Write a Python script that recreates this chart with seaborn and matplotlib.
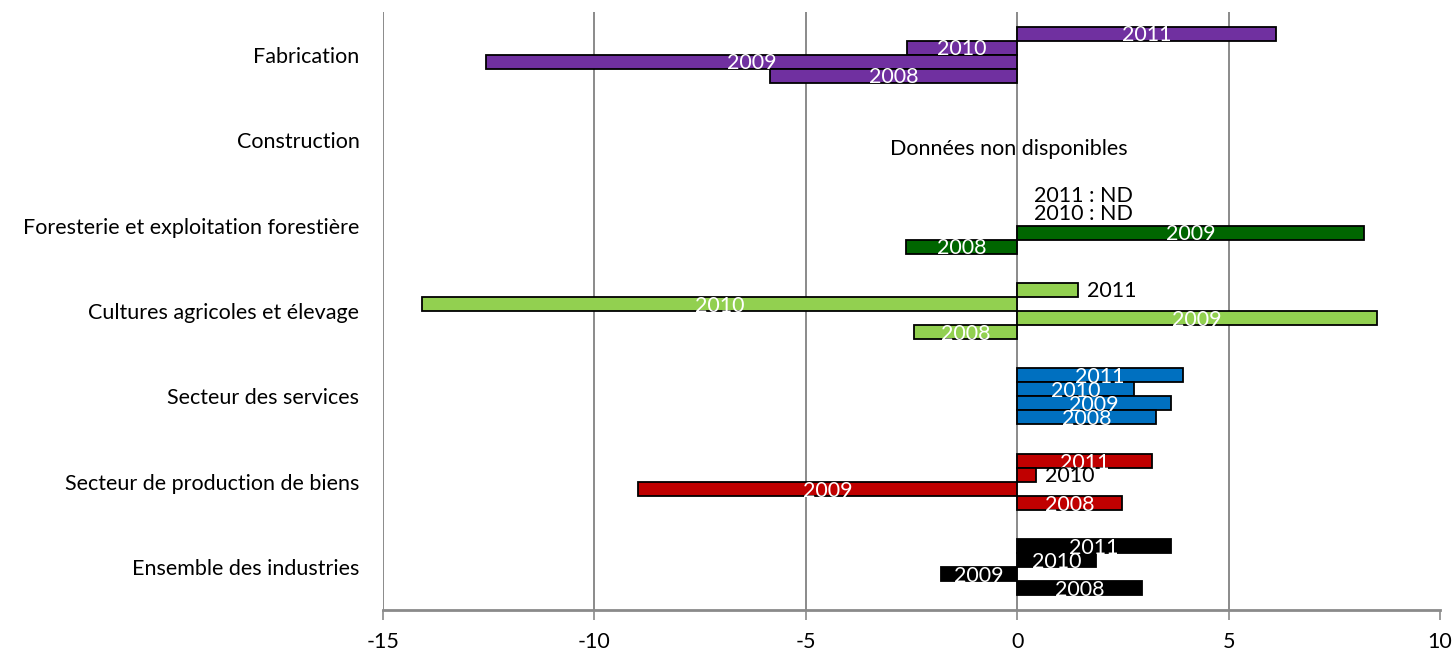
import matplotlib
matplotlib.use("Agg")
import matplotlib.pyplot as plt
import seaborn as sns
import pandas as pd
import numpy as np

# Donnees (variation en %)
secteurs = ["Fabrication", "Construction", "Foresterie et exploitation forestière",
            "Cultures agricoles et élevage", "Secteur des services",
            "Secteur de production de biens", "Ensemble des industries"]
annees = ["2011", "2010", "2009", "2008"]
v2011 = [6.13, None, None, 1.44, 3.92, 3.18, 3.63]
v2010 = [-2.60, None, None, -14.08, 2.77, 0.45, 1.87]
v2009 = [-12.57, None, 8.21, 8.51, 3.64, -8.98, -1.81]
v2008 = [-5.84, None, -2.63, -2.44, 3.28, 2.49, 2.95]
couleurs = ["#7030A0", "#7030A0", "#006600", "#92D050", "#0070C0", "#C00000", "#000000"]
etiquettes_noires = [("Cultures agricoles et élevage", "2011"),
                     ("Secteur de production de biens", "2010")]

rows = []
for annee, vals in zip(annees, [v2011, v2010, v2009, v2008]):
    for s, v in zip(secteurs, vals):
        rows.append({"secteur": s, "annee": annee, "valeur": v})
df = pd.DataFrame(rows).dropna()

sns.set_theme(style="white")
plt.rcParams["font.family"] = ["Lato", "DejaVu Sans"]
plt.rcParams["axes.unicode_minus"] = False
grey = "#8a8a8a"
fs = 15.5

fig = plt.figure(figsize=(14.54, 6.53), dpi=100)
ax = fig.add_axes([383 / 1454, 1 - 610 / 653, (1440 - 383) / 1454, (610 - 12) / 653])

sns.barplot(data=df, x="valeur", y="secteur", hue="annee", order=secteurs,
            hue_order=annees, orient="h", width=0.656, dodge=True, errorbar=None,
            edgecolor="black", linewidth=1.3, legend=False, ax=ax)

for annee, cont in zip(annees, ax.containers):
    for bar in cont:
        w = bar.get_width()
        if w is None or np.isnan(w):
            continue
        yc = bar.get_y() + bar.get_height() / 2
        idx = int(round(yc))
        bar.set_facecolor(couleurs[idx])
        if (secteurs[idx], annee) in etiquettes_noires:
            ax.text(bar.get_x() + w + 0.2, yc + 0.01, annee, color="black",
                    ha="left", va="center", fontsize=fs)
        else:
            ax.text(bar.get_x() + w / 2, yc + 0.02, annee, color="white",
                    ha="center", va="center", fontsize=fs)

ax.text(-0.21, 1.104, "Données non disponibles", ha="center", va="center",
        fontsize=fs, color="black")
ax.text(0.4, 1.654, "2011 : ND", ha="left", va="center", fontsize=fs, color="black")
ax.text(0.4, 1.865, "2010 : ND", ha="left", va="center", fontsize=fs, color="black")

ax.set_xlim(-15, 10)
ax.set_ylim(6.5, -0.5)
ax.set_xticks(range(-15, 11, 5))
ax.xaxis.grid(True, color=grey, linewidth=1.4)
ax.yaxis.grid(False)
ax.set_axisbelow(True)
ax.get_xgridlines()[-1].set_visible(False)
for side in ["top", "right", "left"]:
    ax.spines[side].set_visible(False)
ax.spines["bottom"].set_color(grey)
ax.spines["bottom"].set_linewidth(2)
ax.tick_params(axis="x", length=7, width=1.2, color=grey, pad=9, labelsize=fs,
               labelcolor="black", bottom=True)
ax.tick_params(axis="y", length=0, pad=17, labelsize=fs, labelcolor="black")
ax.set_xlabel("")
ax.set_ylabel("")

fig.savefig("out.png", dpi=100)
